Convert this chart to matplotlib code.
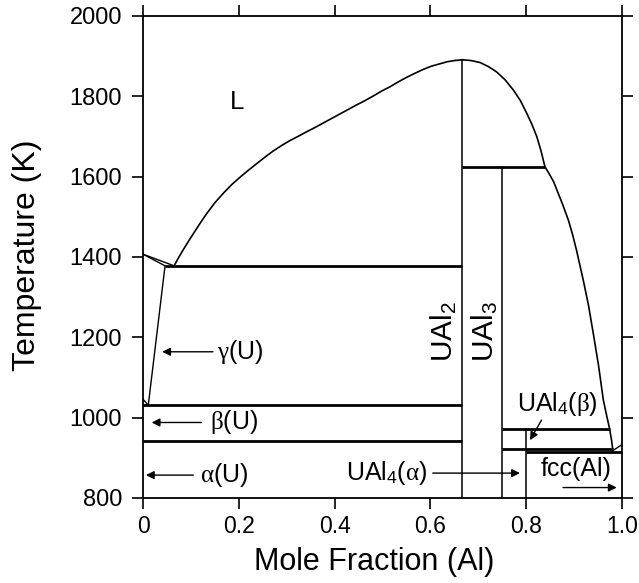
import numpy as np
import matplotlib
matplotlib.use('Agg')
import matplotlib.pyplot as plt

plt.rcParams['font.family'] = ['Liberation Sans', 'DejaVu Sans']
plt.rcParams['mathtext.fontset'] = 'custom'
plt.rcParams['mathtext.rm'] = 'Liberation Sans'
plt.rcParams['mathtext.it'] = 'Liberation Serif'   # greek letters look like Symbol font

# ---------------- data ----------------
# liquidus, U side up to the UAl2 maximum
liq_left_x = [0.065, 0.075, 0.085, 0.098, 0.110, 0.122, 0.133, 0.150, 0.168, 0.185,
              0.203, 0.220, 0.237, 0.255, 0.272, 0.290, 0.307, 0.325, 0.342, 0.360,
              0.377, 0.394, 0.411, 0.428, 0.445, 0.463, 0.481, 0.498, 0.516, 0.533,
              0.550, 0.567, 0.585, 0.602, 0.620, 0.635, 0.650, 0.667]
liq_left_T = [1378, 1400, 1420, 1445, 1467, 1489, 1508, 1535, 1559, 1580,
              1599, 1616, 1632, 1649, 1664, 1678, 1690, 1701, 1712, 1723,
              1734, 1745, 1756, 1767, 1778, 1789, 1801, 1813, 1824, 1836,
              1847, 1857, 1867, 1875, 1881, 1886, 1889, 1891]
# liquidus, Al side from the UAl2 maximum down to the Al eutectic
liq_right_x = [0.667, 0.685, 0.704, 0.721, 0.738, 0.756, 0.773, 0.788, 0.801, 0.812,
               0.822, 0.831, 0.839, 0.848, 0.857, 0.864, 0.876, 0.888, 0.897, 0.905,
               0.912, 0.919, 0.930, 0.940, 0.951, 0.961, 0.968, 0.974, 0.978, 0.981]
liq_right_T = [1891, 1889, 1884, 1874, 1861, 1841, 1816, 1789, 1758, 1730,
               1700, 1664, 1625, 1607, 1588, 1567, 1531, 1492, 1455, 1417,
               1380, 1343, 1280, 1210, 1130, 1044, 1005, 973, 945, 918]
# short branches near the pure elements
u_liq_x, u_liq_T = [0.0, 0.065], [1407, 1378]
u_sol_x, u_sol_T = [0.0, 0.046], [1407, 1378]
g_solvus_x, g_solvus_T = [0.046, 0.011], [1378, 1031]
g_tri_x, g_tri_T = [0.0, 0.011, 0.004], [1046, 1031, 1031]
al_liq_x, al_liq_T = [0.981, 1.0], [918, 933]

# invariant (horizontal) lines: x start, x end, temperature
inv_x0 = [0.046, 0.0, 0.0, 0.667, 0.75, 0.75, 0.80]
inv_x1 = [0.667, 0.667, 0.667, 0.839, 0.974, 0.981, 1.0]
inv_T = [1378, 1031, 942, 1624, 973, 921, 915]

# compounds (vertical lines): composition, top temperature
comp_x = [0.667, 0.75, 0.80]
comp_T = [1891, 1624, 973]

# ---------------- plot ----------------
fig = plt.figure(figsize=(6.39, 5.83), dpi=100)
ax = fig.add_axes([0.2238, 0.1458, 0.7496, 0.8268])

ax.plot(liq_left_x, liq_left_T, 'k-', lw=1.2)
ax.plot(liq_right_x, liq_right_T, 'k-', lw=1.2)
for xs, ts in [(u_liq_x, u_liq_T), (u_sol_x, u_sol_T), (g_solvus_x, g_solvus_T),
               (g_tri_x, g_tri_T), (al_liq_x, al_liq_T)]:
    ax.plot(xs, ts, 'k-', lw=1.0)

for x0, x1, t in zip(inv_x0, inv_x1, inv_T):
    ax.plot([x0, x1], [t, t], 'k-', lw=2.0, solid_capstyle='butt')
for xc, tc in zip(comp_x, comp_T):
    ax.plot([xc, xc], [800, tc], 'k-', lw=1.1)

ax.set_xlim(0, 1.0)
ax.set_ylim(800, 2000)
ax.set_xticks([0, 0.2, 0.4, 0.6, 0.8, 1.0])
ax.set_xticklabels(['0', '0.2', '0.4', '0.6', '0.8', '1.0'])
ax.set_yticks(np.arange(800, 2001, 200))
ax.tick_params(direction='out', length=8, width=1.2, top=True, right=True)
ax.tick_params(axis='x', labelsize=16.5, pad=4)
ax.tick_params(axis='y', labelsize=17, pad=7)
for s in ax.spines.values():
    s.set_linewidth(1.3)

ax.set_xlabel('Mole Fraction (Al)', fontsize=22)
ax.set_ylabel('Temperature (K)', fontsize=23)
ax.xaxis.set_label_coords(0.482, -0.102)
ax.yaxis.set_label_coords(-0.211, 0.504)

# labels
ax.text(0.1955, 1785, 'L', fontsize=18.5, ha='center', va='center')
ax.text(0.628, 1214, 'UAl$_2$', fontsize=21.5, rotation=90, ha='center', va='center')
ax.text(0.714, 1214, 'UAl$_3$', fontsize=21.5, rotation=90, ha='center', va='center')

fs = 18
arr = dict(arrowstyle='-|>', lw=1.0, color='k', mutation_scale=12,
           shrinkA=0, shrinkB=0)
ax.annotate('', xy=(0.040, 1164), xytext=(0.146, 1164), arrowprops=arr)
ax.text(0.155, 1164, r'$\gamma$(U)', fontsize=fs, ha='left', va='center')
ax.annotate('', xy=(0.018, 988), xytext=(0.122, 988), arrowprops=arr)
ax.text(0.140, 988, r'$\beta$(U)', fontsize=fs, ha='left', va='center')
ax.annotate('', xy=(0.006, 857), xytext=(0.105, 857), arrowprops=arr)
ax.text(0.118, 857, r'$\alpha$(U)', fontsize=fs, ha='left', va='center')

ax.annotate('', xy=(0.787, 862), xytext=(0.605, 862), arrowprops=arr)
ax.text(0.593, 862, r'UAl$_4$($\alpha$)', fontsize=fs, ha='right', va='center')
ax.annotate('', xy=(0.808, 944), xytext=(0.832, 994), arrowprops=arr)
ax.text(0.865, 1034, r'UAl$_4$($\beta$)', fontsize=fs, ha='center', va='center')
ax.text(0.904, 872, 'fcc(Al)', fontsize=fs, ha='center', va='center')
ax.annotate('', xy=(0.989, 826), xytext=(0.877, 826), arrowprops=arr)

fig.savefig('out.png', dpi=100)
